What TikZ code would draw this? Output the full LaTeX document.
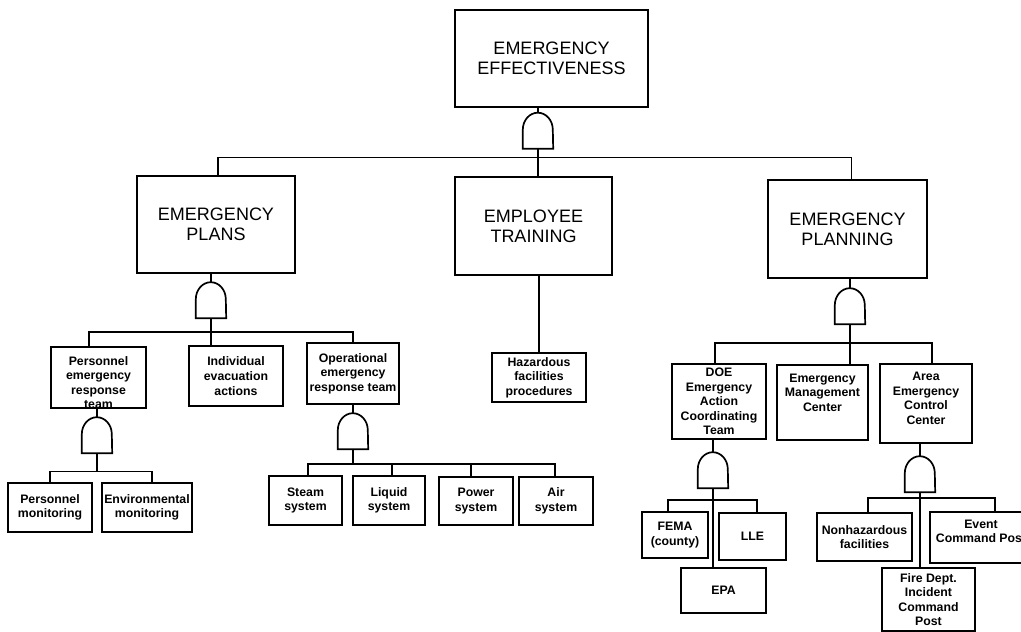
\documentclass[tikz,border=0pt]{standalone}
\usepackage{fontspec}
\setmainfont{Liberation Sans}
\usetikzlibrary{calc}
\tikzset{
  wire/.style={line width=1.7pt},
  box/.style={draw, line width=1.7pt, inner sep=0pt, fill=white},
  big/.style={font=\fontsize{18}{20}\selectfont, align=center},
  small/.style={font=\bfseries\fontsize{12.3}{14.6}\selectfont, align=center},
  gatenode/.style={inner sep=0pt, minimum width=30pt, minimum height=36pt},
}
% AND gate: flat base, straight sides, rounded top
\newcommand{\andgate}[3]{%
  \node[gatenode] (#1) at (#2,#3) {};
  \draw[wire, fill=white] (#1.south west) -- ++(0pt,19pt)
    arc[start angle=180, end angle=0, x radius=15pt, y radius=17pt]
    -- (#1.south east) -- cycle;
}
\begin{document}
\begin{tikzpicture}[x=1pt, y=-1pt]
\useasboundingbox (0,0) rectangle (1021,632);
\clip (0,0) rectangle (1021,632);

% ---- boxes ----
\node[box, big, minimum width=193pt, minimum height=97pt] (top) at (551.5,58.5) {EMERGENCY\\EFFECTIVENESS};
\node[box, big, minimum width=158pt, minimum height=97pt] (plans) at (216,224.5) {EMERGENCY\\PLANS};
\node[box, big, minimum width=157pt, minimum height=98pt] (training) at (533.5,226) {EMPLOYEE\\TRAINING};
\node[box, big, minimum width=159pt, minimum height=98pt] (planning) at (847.5,229) {EMERGENCY\\PLANNING};

\node[box, minimum width=95pt, minimum height=61pt,
  label={[small, yshift=-5pt]center:{Personnel\\emergency\\response\\team}}] (pert) at (98.5,377.5) {};
\node[box, small, minimum width=94pt, minimum height=60pt] (indiv) at (236,376) {Individual\\evacuation\\actions};
\node[box, small, minimum width=92pt, minimum height=61pt] (oper) at (353,373.5) {Operational\\emergency\\response team};
\node[box, small, minimum width=94pt, minimum height=49pt] (haz) at (539,377.5) {Hazardous\\facilities\\procedures};

\node[box, small, minimum width=84pt, minimum height=49pt] (pmon) at (50,507.5) {Personnel\\monitoring};
\node[box, small, minimum width=90pt, minimum height=49pt] (emon) at (147,507.5) {Environmental\\monitoring};

\node[box, small, minimum width=73pt, minimum height=49pt] (steam) at (305.5,500.5) {Steam\\system};
\node[box, small, minimum width=72pt, minimum height=49pt] (liquid) at (389,500.5) {Liquid\\system};
\node[box, small, minimum width=74pt, minimum height=48pt] (power) at (476,501) {Power\\system};
\node[box, small, minimum width=74pt, minimum height=48pt] (air) at (556,501) {Air\\system};

\node[box, small, minimum width=94pt, minimum height=75pt] (doe) at (719,401.5) {DOE\\Emergency\\Action\\Coordinating\\Team};
\node[box, minimum width=91pt, minimum height=75pt,
  label={[small, yshift=10pt]center:{Emergency\\Management\\Center}}] (emc) at (822.5,402.5) {};
\node[box, minimum width=92pt, minimum height=79pt,
  label={[small, yshift=5pt]center:{Area\\Emergency\\Control\\Center}}] (aecc) at (926,403.5) {};

\node[box, small, minimum width=66pt, minimum height=46pt] (fema) at (675,535) {FEMA\\(county)};
\node[box, small, minimum width=67pt, minimum height=47pt] (lle) at (752.5,536.5) {LLE};
\node[box, small, minimum width=85pt, minimum height=45pt] (epa) at (723.5,590.5) {EPA};

\node[box, small, minimum width=95pt, minimum height=48pt] (nonhaz) at (864.5,537) {Nonhazardous\\facilities};
\node[box, minimum width=102pt, minimum height=51pt,
  label={[small, yshift=6pt]center:{Event\\Command Post}}] (event) at (981,537.5) {};
\node[box, small, minimum width=93pt, minimum height=63pt] (fire) at (928.5,599.5) {Fire Dept.\\Incident\\Command\\Post};

% ---- gates ----
\andgate{gTop}{538}{130.5}
\andgate{gPlans}{211}{300}
\andgate{gPlanning}{850}{306}
\andgate{gPert}{97}{435}
\andgate{gOper}{353}{431}
\andgate{gDoe}{713}{470}
\andgate{gAecc}{920}{474}

% ---- top level ----
\draw[wire] (gTop.north) -- (gTop.north |- top.south);
\coordinate (b1) at (538,157.5);
\coordinate (pl) at ($(plans.north)+(2,0)$);
\coordinate (pn) at ($(planning.north)+(4,0)$);
\draw[wire] (gTop.south) -- (gTop.south |- training.north);
\draw[wire] (pl) -- (pl |- b1) -| (pn);
\draw[wire] (haz.north) -- (haz.north |- training.south);

% ---- emergency plans ----
\draw[wire] (gPlans.north) -- (gPlans.north |- plans.south);
\coordinate (b2) at (211,332);
\coordinate (pt) at ($(pert.north)+(-9.5,0)$);
\draw[wire] (gPlans.south) -- (gPlans.south |- indiv.north);
\draw[wire] (pt) -- (pt |- b2) -| (oper.north);

\draw[wire] (gPert.north) -- (gPert.north |- pert.south);
\coordinate (b3) at (97,471.5);
\coordinate (em) at ($(emon.north)+(5,0)$);
\draw[wire] (gPert.south) -- (b3);
\draw[wire] (pmon.north) -- (pmon.north |- b3) -| (em);

\draw[wire] (gOper.north) -- (gOper.north |- oper.south);
\coordinate (b4) at (353,464);
\coordinate (s1) at ($(steam.north)+(2.5,0)$);
\coordinate (s2) at ($(liquid.north)+(3,0)$);
\coordinate (s3) at ($(power.north)+(-5,0)$);
\coordinate (s4) at ($(air.north)+(-1,0)$);
\draw[wire] (gOper.south) -- (b4);
\draw[wire] (s1) -- (s1 |- b4) -| (s4);
\draw[wire] (s2) -- (s2 |- b4);
\draw[wire] (s3) -- (s3 |- b4);

% ---- emergency planning ----
\draw[wire] (gPlanning.north) -- (gPlanning.north |- planning.south);
\coordinate (b5) at (850,343);
\coordinate (d1) at ($(doe.north)+(-4,0)$);
\coordinate (a1) at ($(aecc.north)+(6,0)$);
\draw[wire] (gPlanning.south) -- (gPlanning.south |- emc.north);
\draw[wire] (d1) -- (d1 |- b5) -| (a1);

\draw[wire] (gDoe.north) -- (gDoe.north |- doe.south);
\coordinate (b6) at (713,500);
\coordinate (f1) at ($(fema.north)+(-7,0)$);
\coordinate (l1) at ($(lle.north)+(4.5,0)$);
\draw[wire] (gDoe.south) -- (gDoe.south |- epa.north);
\draw[wire] (f1) -- (f1 |- b6) -| (l1);

\draw[wire] (gAecc.north) -- (gAecc.north |- aecc.south);
\coordinate (b7) at (920,498);
\coordinate (n1) at ($(nonhaz.north)+(3.5,0)$);
\coordinate (e1) at ($(event.north)+(14,0)$);
\draw[wire] (gAecc.south) -- (gAecc.south |- fire.north);
\draw[wire] (n1) -- (n1 |- b7) -| (e1);
\end{tikzpicture}
\end{document}
